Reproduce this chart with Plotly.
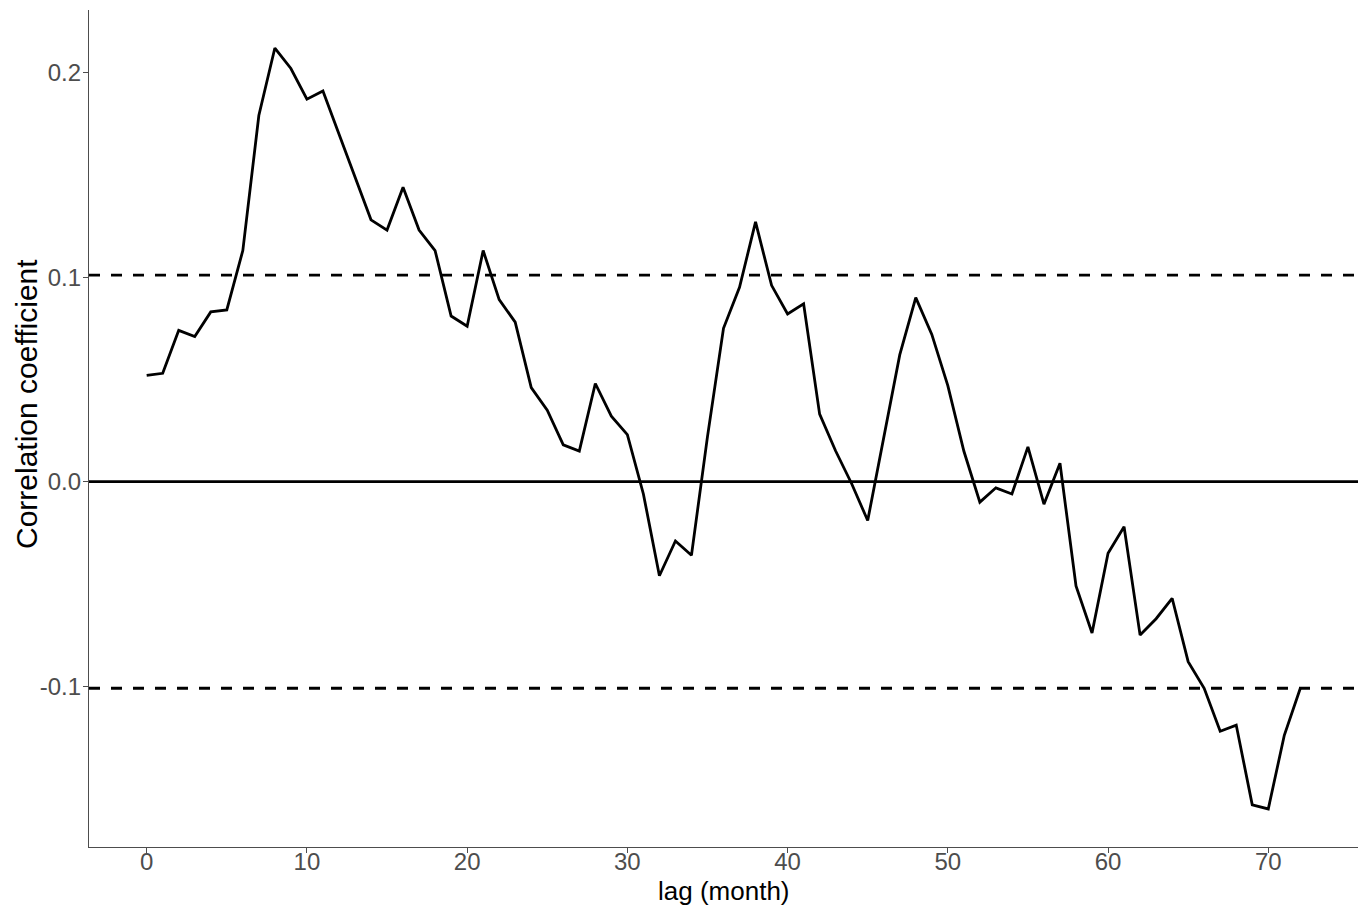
import plotly.graph_objects as go

# lag in months
lags = list(range(0, 73))
# correlation coefficient at each lag
corr = [0.052, 0.053, 0.074, 0.071, 0.083, 0.084, 0.113, 0.179, 0.212, 0.202,
        0.187, 0.191, 0.170, 0.149, 0.128, 0.123, 0.144, 0.123, 0.113, 0.081,
        0.076, 0.113, 0.089, 0.078, 0.046, 0.035, 0.018, 0.015, 0.048, 0.032,
        0.023, -0.006, -0.046, -0.029, -0.036, 0.022, 0.075, 0.095, 0.127, 0.096,
        0.082, 0.087, 0.033, 0.015, -0.001, -0.019, 0.022, 0.062, 0.090, 0.072,
        0.047, 0.015, -0.010, -0.003, -0.006, 0.017, -0.011, 0.009, -0.051, -0.074,
        -0.035, -0.022, -0.075, -0.067, -0.057, -0.088, -0.101, -0.122, -0.119, -0.158,
        -0.160, -0.124, -0.101]
# reference lines: zero line and significance bounds
zero_level = 0.0
signif_levels = [0.101, -0.101]

x_ticks = [0, 10, 20, 30, 40, 50, 60, 70]
y_ticks = [-0.1, 0.0, 0.1, 0.2]
y_ticklabels = ["-0.1", "0.0", "0.1", "0.2"]

x_title = "lag (month)"
y_title = "Correlation coefficient"

FONT = "Liberation Sans, Arial, sans-serif"

fig = go.Figure()
fig.add_trace(go.Scatter(x=lags, y=corr, mode="lines",
                         line=dict(color="black", width=2.8),
                         showlegend=False, hoverinfo="x+y"))

fig.add_hline(y=zero_level, line=dict(color="black", width=2.8), layer="below")
for lv in signif_levels:
    fig.add_hline(y=lv, line=dict(color="black", width=2.8, dash="11px,11px"), layer="below")

xmin, xmax = min(lags), max(lags)
xpad = (xmax - xmin) * 0.05
ymin, ymax = min(corr), max(corr)
ypad = (ymax - ymin) * 0.05

axis_common = dict(
    showgrid=False, zeroline=False, automargin=False,
    showline=True, linecolor="#4d4d4d", linewidth=1.2,
    ticks="outside", ticklen=5, tickwidth=1.2, tickcolor="#4d4d4d",
    tickfont=dict(family=FONT, size=24, color="#4d4d4d"),
)

# page has an 8px body margin: shrink the figure so the panel lands at the target spot
W, H = 1362, 902
ML, MR, MT, MB = 81, 12, 2, 63
plot_w = W - ML - MR
plot_h = H - MT - MB

fig.update_layout(
    width=W, height=H,
    paper_bgcolor="white", plot_bgcolor="white",
    margin=dict(l=ML, r=MR, t=MT, b=MB, autoexpand=False),
    xaxis=dict(range=[xmin - xpad, xmax + xpad], tickvals=x_ticks,
               ticklabelstandoff=-12, **axis_common),
    yaxis=dict(range=[ymin - ypad, ymax + ypad], tickvals=y_ticks, ticktext=y_ticklabels,
               ticklabelstandoff=-3, **axis_common),
    annotations=[
        dict(text=x_title, xref="paper", yref="paper", x=0.5, y=-44 / plot_h,
             xanchor="center", yanchor="middle", showarrow=False,
             font=dict(family=FONT, size=26, color="black")),
        dict(text=y_title, xref="paper", yref="paper", x=(18 - ML) / plot_w, y=(839 - 396) / plot_h,
             xanchor="center", yanchor="middle", showarrow=False, textangle=-90,
             font=dict(family=FONT, size=30, color="black")),
    ],
)

fig.write_html("out.html")
